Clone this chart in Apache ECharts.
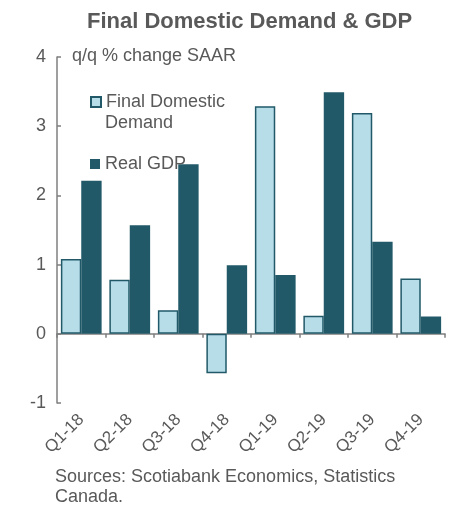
<!DOCTYPE html>
<html>
<head>
<meta charset="utf-8">
<script src="https://cdn.jsdelivr.net/npm/echarts@6/dist/echarts.min.js"></script>
<style>
	html, body { margin: 0; padding: 0; background: #fff; }
	#chart { width: 455px; height: 506px; }
</style>
</head>
<body>
<div id="chart"></div>
<script>
	// 季度
	var quarters = ['Q1-18', 'Q2-18', 'Q3-18', 'Q4-18', 'Q1-19', 'Q2-19', 'Q3-19', 'Q4-19'];
	// q/q % change SAAR
	var finalDomesticDemand = [1.08, 0.78, 0.34, -0.57, 3.29, 0.26, 3.19, 0.80];
	var realGDP = [2.21, 1.57, 2.45, 0.99, 0.85, 3.49, 1.33, 0.25];
	var yTicks = [-1, 0, 1, 2, 3, 4];

	var grey = '#595959';
	var lightBlue = '#b7dde8';
	var darkTeal = '#215968';
	var font = 'Liberation Sans, Arial, sans-serif';

	var chart = echarts.init(document.getElementById('chart'));

	var option = {
		animation: false,
		title: {
			text: 'Final Domestic Demand & GDP',
			left: 82,
			top: 6,
			textStyle: {
				color: grey,
				fontFamily: font,
				fontSize: 22,
				fontWeight: 'bold'
			}
		},
		legend: [{
			data: ['Final Domestic Demand'],
			left: 90,
			top: 91,
			padding: 0,
			icon: 'rect',
			itemWidth: 10,
			itemHeight: 10,
			formatter: function () { return 'Final Domestic'; },
			textStyle: {
				color: grey,
				fontFamily: font,
				fontSize: 18,
				lineHeight: 22
			}
		}, {
			data: ['Real GDP'],
			left: 90,
			top: 153,
			padding: 0,
			icon: 'rect',
			itemWidth: 10,
			itemHeight: 10,
			textStyle: {
				color: grey,
				fontFamily: font,
				fontSize: 18,
				lineHeight: 22
			}
		}],
		graphic: [{
			type: 'text',
			left: 72,
			top: 47,
			style: {
				text: 'q/q % change SAAR',
				fill: grey,
				font: '18px ' + font
			}
		}, {
			// 图例第二行
			type: 'text',
			left: 105,
			top: 114,
			style: {
				text: 'Demand',
				fill: grey,
				font: '18px ' + font
			}
		}, {
			type: 'text',
			left: 55,
			top: 467,
			style: {
				text: 'Sources: Scotiabank Economics, Statistics\nCanada.',
				fill: grey,
				font: '18px ' + font,
				lineHeight: 20
			}
		}],
		grid: {
			left: 57,
			right: 10,
			top: 57,
			bottom: 103,
			outerBoundsMode: 'none',
			containLabel: false
		},
		xAxis: {
			type: 'category',
			data: quarters,
			axisLine: { onZero: true, lineStyle: { color: '#7f7f7f', width: 1.5 } },
			axisTick: { show: true, length: 4, lineStyle: { color: '#7f7f7f', width: 1.5 } },
			axisLabel: {
				interval: 0,
				rotate: 45,
				margin: 14,
				color: grey,
				fontFamily: font,
				fontSize: 17
			}
		},
		yAxis: {
			type: 'value',
			min: yTicks[0],
			max: yTicks[yTicks.length - 1],
			interval: 1,
			splitLine: { show: false },
			axisLine: { show: true, lineStyle: { color: '#7f7f7f', width: 1.5 } },
			axisTick: { show: true, inside: true, length: 4, lineStyle: { color: '#7f7f7f', width: 1.5 } },
			axisLabel: {
				margin: 11,
				color: grey,
				fontFamily: font,
				fontSize: 18
			}
		},
		series: [{
			name: 'Final Domestic Demand',
			type: 'bar',
			data: finalDomesticDemand,
			barGap: '0%',
			barCategoryGap: '16%',
			itemStyle: {
				color: lightBlue,
				borderColor: darkTeal,
				borderWidth: 1.5
			}
		}, {
			name: 'Real GDP',
			type: 'bar',
			data: realGDP,
			itemStyle: {
				color: darkTeal,
				borderColor: darkTeal,
				borderWidth: 0
			}
		}]
	};
	chart.setOption(option);
</script>
</body>
</html>
